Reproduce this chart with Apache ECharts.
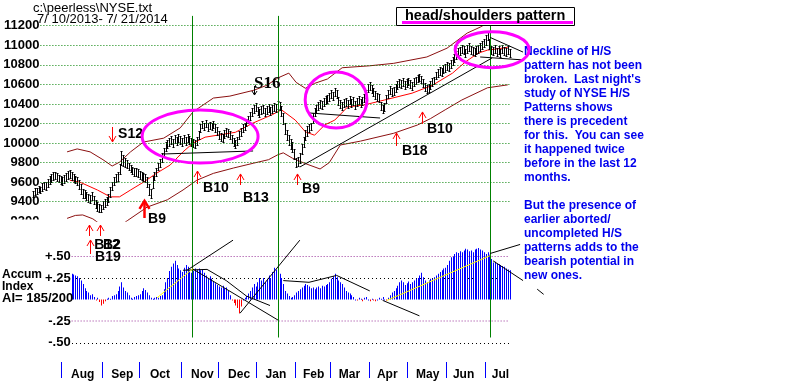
<!DOCTYPE html>
<html><head><meta charset="utf-8">
<script src="https://cdn.jsdelivr.net/npm/echarts@6/dist/echarts.min.js"></script>
<style>html,body{margin:0;padding:0;background:#fff}#c{width:800px;height:381px}</style>
</head><body><div id="c"></div>
<script>
// ---------- DATA (trading day index 0 = 7/10/2013 ... 259 = 7/21/2014) ----------
const high = [
9510,9540,9545,9560,9555,9590,9600,9600,9630,9660,
9680,9700,9705,9690,9675,9660,9650,9670,9690,9710,
9720,9700,9680,9665,9650,9620,9580,9530,9520,9500,
9480,9470,9500,9460,9420,9400,9380,9370,9410,9430,
9450,9480,9550,9600,9650,9680,9700,9790,9920,9880,
9850,9830,9800,9780,9760,9740,9740,9730,9710,9700,
9690,9680,9650,9580,9530,9660,9700,9740,9800,9840,
9900,9950,10010,10030,10050,10070,10040,10080,10060,10090,
10070,10050,10080,10060,10090,10070,10050,10040,10030,10060,
10120,10190,10230,10210,10240,10200,10220,10210,10230,10190,
10160,10120,10100,10090,10130,10150,10140,10120,10080,10050,
10030,10060,10120,10150,10190,10210,10250,10280,10320,10360,
10390,10410,10370,10350,10380,10390,10360,10380,10400,10370,
10390,10410,10400,10430,10420,10380,10310,10210,10130,10080,
10040,10010,9940,9850,9860,9900,9990,10060,10130,10170,
10190,10210,10310,10360,10390,10420,10440,10430,10460,10480,
10490,10510,10540,10520,10560,10540,10470,10440,10420,10450,
10460,10440,10480,10450,10470,10430,10460,10480,10450,10470,
10500,10540,10600,10620,10590,10560,10530,10510,10500,10420,
10390,10410,10490,10540,10580,10560,10570,10600,10630,10650,
10640,10660,10630,10650,10670,10640,10620,10660,10680,10700,
10710,10690,10650,10610,10590,10600,10630,10660,10680,10730,
10760,10780,10770,10800,10810,10830,10820,10850,10880,10910,
10940,10970,10980,11000,10990,10960,11000,11020,10990,10980,
10970,10990,11000,11020,11040,11060,11100,11150,11060,10990,
10980,11000,10970,10990,10960,11000,10980,10970,10990,10960];
const low = [
9450,9470,9480,9495,9490,9510,9530,9525,9555,9585,
9600,9625,9635,9610,9600,9585,9570,9595,9610,9630,
9640,9620,9600,9590,9570,9530,9480,9440,9440,9420,
9400,9390,9420,9375,9335,9310,9295,9290,9330,9350,
9370,9400,9450,9520,9570,9600,9610,9680,9780,9770,
9760,9750,9720,9700,9680,9660,9660,9650,9630,9620,
9610,9600,9550,9470,9440,9540,9620,9660,9720,9760,
9810,9860,9920,9950,9970,9990,9960,10000,9980,10010,
9990,9970,10000,9980,10010,9990,9970,9960,9950,9980,
10040,10110,10150,10130,10160,10120,10140,10130,10150,10110,
10080,10040,10020,10010,10050,10070,10060,10040,10000,9970,
9950,9980,10040,10070,10110,10130,10170,10200,10240,10280,
10310,10330,10290,10270,10300,10310,10280,10300,10320,10290,
10310,10330,10320,10350,10340,10280,10190,10090,10030,9980,
9940,9910,9840,9760,9770,9800,9890,9960,10030,10070,
10110,10130,10210,10280,10310,10340,10360,10350,10380,10400,
10410,10430,10460,10440,10480,10460,10390,10360,10340,10370,
10380,10360,10400,10370,10390,10350,10380,10400,10370,10390,
10420,10460,10520,10540,10510,10480,10450,10430,10420,10340,
10310,10330,10410,10460,10500,10480,10490,10520,10550,10570,
10560,10580,10550,10570,10590,10560,10540,10580,10600,10620,
10630,10610,10570,10530,10510,10520,10550,10580,10600,10650,
10680,10700,10690,10720,10730,10750,10740,10770,10800,10830,
10860,10890,10900,10920,10910,10880,10920,10940,10910,10900,
10890,10910,10920,10940,10960,10980,11000,11050,10960,10910,
10900,10920,10890,10910,10880,10920,10900,10890,10910,10880];

const upperDays = [18.5,24,31,38,43,47,53,60,71,80,87,98,107,120,127,133,139,143,148,153,160,168,183,196,214,225,236,243,250,258];
const upperBand = [9910,9940,9910,9830,9765,9805,9910,10010,10050,10155,10320,10460,10480,10540,10590,10665,10715,10620,10560,10610,10655,10770,10790,10815,10880,10970,11125,11185,11260,11280];
const maDays = [20,25.5,35,42,47,53,60,67,74.5,81.5,87,93.5,110,119,130,135,142.5,148,153,158.5,164,171,180,191,206,217,228,235,242,247,255,258];
const maVals = [9620,9600,9520,9450,9450,9520,9600,9690,9775,9910,10000,10060,10110,10200,10290,10340,10235,10115,10080,10185,10235,10370,10390,10440,10510,10590,10715,10830,10920,10950,10970,10980];
const lowerDays = [18.5,23,27,32.5,36.5,42,47,51.5,62,73,81.5,89,98,109,120,128,133,136,141,148,156,161,167,178,196,209,216,224,233,247,258];
const lowerVals = [9230,9260,9265,9225,9170,9120,9150,9210,9345,9420,9520,9620,9690,9745,9795,9830,9880,9900,9845,9790,9735,9800,9980,10020,10100,10185,10250,10340,10440,10565,10595];

const aiStart = 21;
const aiVals = [
0.30,0.29,0.28,0.27,0.25,0.22,0.18,0.13,0.10,0.08,
0.05,0.06,0.03,-0.01,0.02,-0.03,-0.07,-0.05,-0.02,0.01,
0.02,0.01,0.04,0.05,0.06,0.10,0.15,0.20,0.14,0.10,
0.08,0.05,0.02,0.01,0.03,0.04,0.05,0.06,0.10,0.13,
0.11,0.08,0.05,0.02,0.01,0.02,0.03,0.02,0.04,0.05,
0.12,0.20,0.25,0.33,0.38,0.42,0.45,0.40,0.36,0.34,
0.32,0.37,0.40,0.38,0.34,0.31,0.33,0.36,0.35,0.36,
0.34,0.35,0.31,0.28,0.25,0.27,0.24,0.21,0.19,0.17,
0.15,0.14,0.16,0.13,0.14,0.10,0.05,-0.01,-0.04,-0.07,
-0.10,-0.16,-0.08,0.00,0.02,0.04,0.07,0.10,0.14,0.18,
0.15,0.20,0.25,0.22,0.25,0.20,0.24,0.28,0.25,0.32,
0.37,0.35,0.34,0.30,0.25,0.18,0.10,0.07,0.04,0.02,
0.03,0.05,0.08,0.10,0.12,0.14,0.16,0.18,0.17,0.15,
0.13,0.14,0.12,0.14,0.15,0.13,0.16,0.15,0.17,0.18,
0.20,0.24,0.27,0.30,0.26,0.22,0.20,0.18,0.14,0.10,
0.08,0.07,0.05,0.03,0.00,-0.01,0.02,0.01,-0.02,0.02,
0.03,0.00,-0.02,0.01,-0.01,-0.02,0.00,0.02,0.01,0.03,
0.00,-0.01,0.02,0.05,0.08,0.10,0.13,0.16,0.20,0.22,
0.20,0.17,0.19,0.21,0.18,0.20,0.22,0.24,0.25,0.28,
0.31,0.26,0.22,0.20,0.22,0.24,0.24,0.26,0.28,0.30,
0.32,0.34,0.36,0.37,0.40,0.45,0.49,0.50,0.53,0.55,
0.54,0.56,0.55,0.57,0.59,0.58,0.56,0.57,0.55,0.58,
0.59,0.60,0.58,0.57,0.55,0.53,0.55,0.52,0.47,0.43,
0.44,0.42,0.41,0.40,0.39,0.38,0.36,0.35,0.34];

// ticks / labels
const priceTicks = [9200,9400,9600,9800,10000,10200,10400,10600,10800,11000,11200];
const priceGridVals = [9400,9600,9800,10000,10200,10400,10600,10800,11000,11200];
const aiTickVals = [0.5,0.25,-0.25,-0.5];
const aiTickLabels = ['+.50','+.25','-.25','-.50'];
const aiPurpleVals = [0.5,-0.25];
const aiBlackVals = [0.25,-0.5];
const monthStarts = [15.5,37.5,57.5,80.5,100.5,121.5,142.5,161.5,182.5,203.5,224.5,245.5];
const monthLabelPos = [27,48.5,69,92,112,132,152.5,172,192.5,214.5,234,254];
const monthNames = ['Aug','Sep','Oct','Nov','Dec','Jan','Feb','Mar','Apr','May','Jun','Jul'];

// annotations (data coordinates)
const signalLineDays = [86.4,133.2,248.4];
const sigLabels   = ['S12','B12','B2','B19','B9','B10','B13','B9','B18','B10'];
const sigArrowDay = [42.9,30.4,36.4,31,60.3,89.1,112.5,143.5,197.3,211.4];
const sigArrowTip = [10011,9162,9162,9009,9408,9714,9684,9684,10103,10318];
const sigArrowTail= [10164,9050,9050,8866,9234,9581,9571,9571,9970,10195];
const sigTextDay  = [46.2,33.2,38,33.7,62.5,92.4,114.1,146.2,200.5,214.1];
const sigTextVal  = [10093,8958,8958,8835,9224,9540,9438,9530,9919,10144];
const ellipseCenters = [[90.8,10067],[164.7,10440],[249.5,10955]];
const ellipseRadii = [[31.5,271],[16.8,286],[20.1,184]];
const priceLines = [
  [[70.7,9888],[119.6,9919]],
  [[150.5,10307],[188.6,10256]],
  [[145,9755],[249.5,10870]],
  [[248.4,11080],[266.3,10930]],
  [[243,10880],[266.3,10850]]
];
const aiLines = [
  [[83.7,0.34],[108.7,0.69]],
  [[86.4,0.36],[133.2,-0.24]],
  [[81.5,0.34],[94.6,0.35],[105,0.22],[116,0.04],[128.8,-0.07]],
  [[112.5,-0.16],[145,0.69]],
  [[136,0.22],[150,0.20],[165,0.28],[183,0.10]],
  [[190,-0.01],[210,-0.19]],
  [[248.4,0.535],[264.7,0.64]],
  [[250,0.45],[266.3,0.22]],
  [[274,0.12],[277.5,0.06]]
];
const aiYellowLines = [
  [[67.4,0.02],[87,0.36]],
  [[192.4,-0.01],[248.4,0.51]]
];
const noteLines = ['Neckline of H/S','pattern has not been','broken.  Last night\'s','study of NYSE H/S','Patterns shows','there is precedent','for this.  You can see','it happened twice','before in the last 12','months.','','But the presence of','earlier aborted/','uncompleted H/S','patterns adds to the','bearish potential in','new ones.'];

// ---------- CHART ----------
const FONT = '"Liberation Sans", Arial, sans-serif';
const chart = echarts.init(document.getElementById('c'), null, {renderer:'canvas'});
const pair = (xs, ys) => xs.map((x,k)=>[x, ys[k]]);

const aiGridSeries = aiPurpleVals.map((v,k)=>({
  type:'line', name:'aiGridP'+k, xAxisIndex:1, yAxisIndex:1, data:[[21,v],[140,v],[259,v]], symbol:'none', showSymbol:false,
  silent:true, z:2, clip:false, lineStyle:{color:'#993399', type:[1,2], width:1, opacity:1}
}));

const option = {
  animation:false,
  backgroundColor:'#fff',
  grid:[
    {left:40.4, right:290.4, top:15.9, height:205.4, outerBoundsMode:'none', containLabel:false},
    {left:71.64, right:290.4, top:256.5, height:86, outerBoundsMode:'none', containLabel:false},
    {left:40.4, right:290.4, top:361, height:1, outerBoundsMode:'none', containLabel:false}
  ],
  xAxis:[
    {type:'value', gridIndex:0, min:4, max:259, show:false},
    {type:'value', gridIndex:1, min:21, max:259, show:false},
    {type:'value', gridIndex:2, min:4, max:259, position:'bottom',
      axisLine:{show:false}, splitLine:{show:false},
      axisTick:{show:true, inside:false, customValues:monthStarts, length:16, lineStyle:{color:'#0000ff', width:1}},
      axisLabel:{show:true, customValues:monthLabelPos, margin:7, color:'#000', fontWeight:'bold', fontSize:12, fontFamily:FONT,
        formatter:v=>{const k=monthLabelPos.indexOf(v); return k>=0?monthNames[k]:'';}}}
  ],
  yAxis:[
    {type:'value', gridIndex:0, min:9200, max:11300, interval:100,
      axisLine:{show:false}, axisTick:{show:false}, splitLine:{show:false},
      axisLabel:{margin:1, color:'#000', fontWeight:'bold', fontSize:13, fontFamily:FONT,
        formatter:v=>priceTicks.indexOf(v)>=0?String(v):''}},
    {type:'value', gridIndex:1, min:-0.5, max:0.5, interval:0.25,
      axisLine:{show:false}, axisTick:{show:false}, splitLine:{show:false},
      axisLabel:{margin:1, color:'#000', fontWeight:'bold', fontSize:13, fontFamily:FONT,
        formatter:v=>{const k=aiTickVals.indexOf(v); return k>=0?aiTickLabels[k]:'';}}},
    {type:'value', gridIndex:2, min:0, max:1, show:false}
  ],
  series:[
    {type:'line', xAxisIndex:0, yAxisIndex:0, data:[[4,9300]], symbol:'none', lineStyle:{opacity:0}, silent:true, z:1,
      markLine:{silent:true, symbol:['none','none'], label:{show:false}, animation:false,
        data:priceGridVals.map(v=>({yAxis:v, lineStyle:{color:'#008000', type:[1,2], width:1}}))}},
    ...aiGridSeries,
    {type:'line', name:'upper', xAxisIndex:0, yAxisIndex:0, data:pair(upperDays, upperBand), symbol:'none', clip:true,
      lineStyle:{color:'#8b1010', width:1}, silent:true, z:3},
    {type:'line', name:'lower', xAxisIndex:0, yAxisIndex:0, data:pair(lowerDays, lowerVals), symbol:'none', clip:true,
      lineStyle:{color:'#8b1010', width:1}, silent:true, z:3},
    {type:'line', name:'ma', xAxisIndex:0, yAxisIndex:0, data:pair(maDays, maVals), symbol:'none', clip:true,
      lineStyle:{color:'#ff0000', width:1}, silent:true, z:3},
    {type:'custom', name:'price', xAxisIndex:0, yAxisIndex:0, clip:false, silent:true, z:4,
      data:high.map((h,i)=>[i, low[i], h]), encode:{x:0, y:[1,2]},
      renderItem:(params, api)=>{
        const d=api.value(0);
        const a=api.coord([d, api.value(1)]), b=api.coord([d, api.value(2)]);
        const x=Math.round(a[0])+0.5;
        const yb=Math.round(a[1])+0.5, yt=Math.round(b[1])+0.5;
        return {type:'group', children:[
          {type:'line', shape:{x1:x, y1:yb, x2:x, y2:yt}, style:{stroke:'#000', lineWidth:1}},
          {type:'line', shape:{x1:x-1, y1:yt, x2:x+1, y2:yt}, style:{stroke:'#000', lineWidth:1}},
          {type:'line', shape:{x1:x-1, y1:yb, x2:x+1, y2:yb}, style:{stroke:'#000', lineWidth:1}}
        ]};
      }},
    {type:'custom', name:'ai', xAxisIndex:1, yAxisIndex:1, clip:false, silent:true, z:4,
      data:aiVals.map((v,k)=>[aiStart+k, v]), encode:{x:0, y:1},
      renderItem:(params, api)=>{
        const d=api.value(0), v=api.value(1);
        const p=api.coord([d, v]), z=api.coord([d, 0]);
        const x=Math.round(p[0]);
        const y0=Math.min(p[1], z[1]), h=Math.max(1, Math.abs(z[1]-p[1]));
        return {type:'rect', shape:{x:x, y:y0, width:1, height:h}, style:{fill: v<0?'#ff0000':'#0000ff'}};
      }}
  ]
};
chart.setOption(option);

// ---------- ANNOTATIONS via library coordinate conversion ----------
const P = (d,v)=>chart.convertToPixel({gridIndex:0},[d,v]);
const A = (d,v)=>chart.convertToPixel({gridIndex:1},[d,v]);
const els = [];
function poly(pts, color, w, z){ return {type:'polyline', z:z||50, silent:true, shape:{points:pts}, style:{stroke:color, lineWidth:w, fill:'none'}}; }
function txt(x, y, s, font, color, z){ return {type:'text', z:z||60, silent:true, x:x, y:y,
  style:{text:s, font:font, fill:color, align:'left', verticalAlign:'middle', textAlign:'left', textVerticalAlign:'middle'}}; }

// black dotted accum lines drawn as small dots (1px squares)
aiBlackVals.forEach(v=>{
  const a=A(21,v), b=A(259,v);
  const y=Math.round(a[1]);
  for (let x=Math.round(a[0]); x<=b[0]; x+=4){
    els.push({type:'rect', z:3, silent:true, shape:{x:x, y:y, width:1, height:1}, style:{fill:'#000'}});
  }
});

signalLineDays.forEach(d=>{
  const t=P(d,11300), b=A(d,-0.442);
  const x=Math.round(t[0])+0.5;
  els.push(poly([[x,t[1]],[x,b[1]]], '#008000', 1, 5));
});
els.push({type:'rect', z:40, silent:true, shape:{x:0, y:219.5, width:41, height:14}, style:{fill:'#fff'}});

priceLines.forEach(l=>els.push(poly(l.map(p=>P(p[0],p[1])), '#000', 1)));
aiLines.forEach(l=>els.push(poly(l.map(p=>A(p[0],p[1])), '#000', 1)));
aiYellowLines.forEach(l=>els.push(poly(l.map(p=>A(p[0],p[1])), '#ffff00', 1)));

ellipseCenters.forEach((c,k)=>{
  const cc=P(c[0],c[1]);
  const ex=P(c[0]+ellipseRadii[k][0], c[1]);
  const ey=P(c[0], c[1]+ellipseRadii[k][1]);
  els.push({type:'ellipse', z:70, silent:true, shape:{cx:cc[0], cy:cc[1], rx:Math.abs(ex[0]-cc[0]), ry:Math.abs(cc[1]-ey[1])},
    style:{fill:'none', stroke:'#ff00ff', lineWidth:3}});
});

sigLabels.forEach((lab,k)=>{
  const tip=P(sigArrowDay[k], sigArrowTip[k]), tail=P(sigArrowDay[k], sigArrowTail[k]);
  const x=Math.round(tip[0])+0.5;
  const dir = tail[1]>tip[1] ? 1 : -1;
  const thick = (k===4);
  const w = thick?2.5:1, hw = thick?5:3.5, hh = thick?8:6;
  els.push(poly([[x,tail[1]],[x,tip[1]]], '#ff0000', w, 55));
  els.push(poly([[x-hw,tip[1]+dir*hh],[x,tip[1]],[x+hw,tip[1]+dir*hh]], '#ff0000', w, 55));
  const tp=P(sigTextDay[k], sigTextVal[k]);
  els.push(txt(tp[0], tp[1], lab, 'bold 14px '+FONT, '#000'));
});
(function(){
  const a=P(120.1,10583), b=P(120.1,10491);
  const x=Math.round(a[0])+0.5;
  els.push(poly([[x,a[1]],[x,b[1]]], '#000', 1, 55));
  els.push(poly([[x-2.5,b[1]-4],[x,b[1]],[x+2.5,b[1]-4]], '#000', 1, 55));
  const t=P(120.1,10604);
  els.push(txt(t[0], t[1], 'S16', 'bold 17px "Liberation Serif", "Times New Roman", serif', '#000'));
})();

els.push(txt(33, 8, 'c:\\peerless\\NYSE.txt', '13px '+FONT, '#000'));
els.push(txt(37, 19.5, '7/ 10/2013- 7/ 21/2014', '13px '+FONT, '#000'));
els.push({type:'rect', z:58, silent:true, shape:{x:396.5, y:7.5, width:178, height:18}, style:{fill:'#fff', stroke:'#000', lineWidth:1}});
els.push({type:'rect', z:59, silent:true, shape:{x:402, y:21, width:171, height:3}, style:{fill:'#ff00ff'}});
els.push(txt(405, 16, 'head/shoulders pattern', 'bold 14.5px '+FONT, '#000', 60));
els.push(txt(2, 275, 'Accum', 'bold 12px '+FONT, '#000'));
els.push(txt(2, 287, 'Index', 'bold 12px '+FONT, '#000'));
els.push(txt(2, 298.5, 'AI= 185/200', 'bold 13px '+FONT, '#000'));
els.push({type:'text', z:60, silent:true, x:524, y:45,
  style:{text:noteLines.join('\n'), font:'bold 12px '+FONT, fill:'#0000ee', lineHeight:14,
    align:'left', verticalAlign:'top', textAlign:'left', textVerticalAlign:'top'}});

chart.setOption({graphic:{elements:els}});
</script>
</body></html>
